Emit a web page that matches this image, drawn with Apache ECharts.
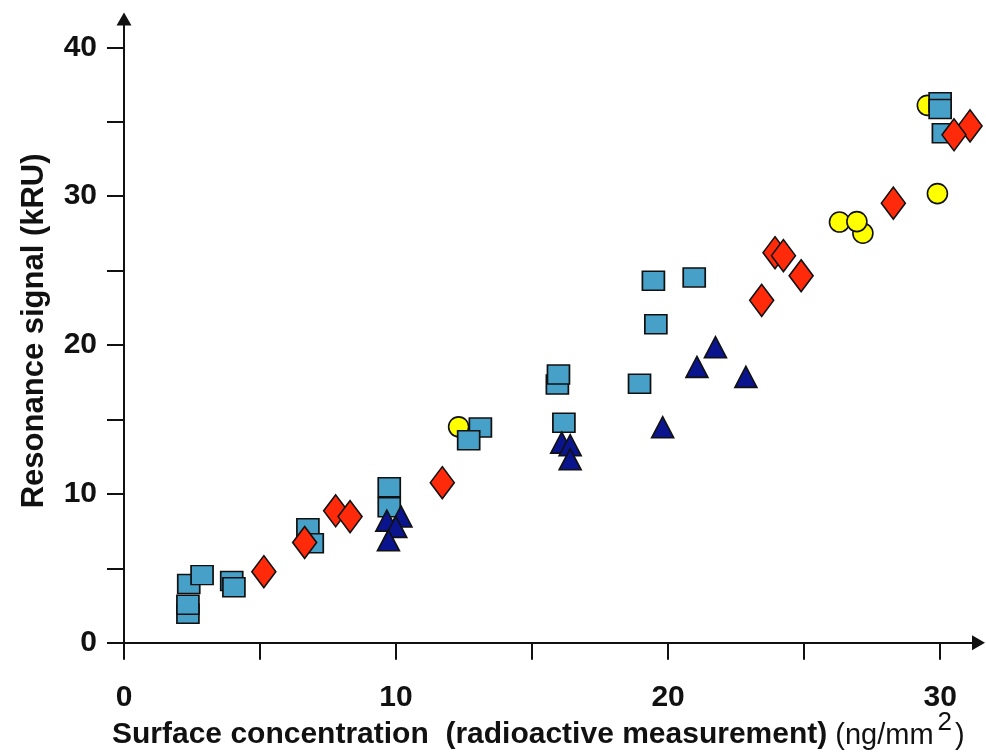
<!DOCTYPE html>
<html>
<head>
<meta charset="utf-8">
<script src="https://cdn.jsdelivr.net/npm/echarts@6/dist/echarts.min.js"></script>
<style>
  html, body { margin: 0; padding: 0; background: #fff; }
  #chart { width: 986px; height: 752px; }
</style>
</head>
<body>
<div id="chart"></div>
<script>
// Surface concentration (ng/mm²) vs resonance signal (kRU), four sample groups
const circlePoints = [
  [9.75, 9.8], [12.3, 14.5], [26.3, 28.26], [27.16, 27.51], [26.94, 28.29],
  [29.53, 36.1], [29.9, 30.17]
];
const squarePoints = [
  [2.35, 1.95], [2.35, 2.55], [2.38, 3.94], [2.87, 4.54], [3.96, 4.15], [4.04, 3.72],
  [6.76, 7.69], [6.92, 6.68], [9.75, 10.44], [9.75, 9.1], [13.1, 14.45], [12.67, 13.6],
  [15.93, 17.34], [15.97, 18.02], [16.17, 14.77], [18.95, 17.39], [19.46, 24.32],
  [19.55, 21.4], [20.96, 24.54], [30.0, 36.3], [30.0, 35.85], [30.12, 34.23]
];
const trianglePoints = [
  [10.18, 8.48], [9.66, 8.2], [9.99, 7.78], [9.72, 6.88],
  [16.09, 13.44], [16.4, 13.27], [16.4, 12.32], [19.8, 14.48],
  [21.06, 18.53], [21.74, 19.85], [22.86, 17.86]
];
const diamondPoints = [
  [5.14, 4.77], [6.64, 6.73], [7.78, 8.86], [8.31, 8.47], [11.7, 10.75],
  [23.44, 23.0], [23.93, 26.2], [24.24, 26.0], [24.89, 24.65], [28.28, 29.53],
  [31.1, 34.72], [30.51, 34.12]
];

const xTicks = [0, 5, 10, 15, 20, 25, 30];
const xTickLabels = [0, 10, 20, 30];
const yTicks = [0, 5, 10, 15, 20, 25, 30, 35, 40];
const yTickLabels = [0, 10, 20, 30, 40];

const FONT = 'Liberation Sans, Arial, sans-serif';
const INK = '#111';
const TEXT = '#111';

const chart = echarts.init(document.getElementById('chart'), null, { renderer: 'canvas' });

function axisCommon(ticks, labels, margin) {
  return {
    type: 'value',
    splitLine: { show: false },
    axisLine: {
      show: true,
      symbol: ['none', 'triangle'],
      symbolSize: [15, 13],
      lineStyle: { color: INK, width: 2 }
    },
    axisTick: {
      show: true,
      customValues: ticks,
      length: 17,
      lineStyle: { color: INK, width: 2 }
    },
    axisLabel: {
      customValues: labels,
      margin: margin,
      color: TEXT,
      fontFamily: FONT,
      fontWeight: 'bold',
      fontSize: 30
    }
  };
}

function markerSeries(data, symbol, size, color) {
  return {
    type: 'scatter',
    data: data,
    symbol: symbol,
    symbolSize: size,
    itemStyle: { color: color, borderColor: INK, borderWidth: 1.6, opacity: 1 },
    emphasis: { disabled: true },
    animation: false
  };
}

chart.setOption({
  backgroundColor: '#fff',
  animation: false,
  grid: { left: 124, right: 7.5, top: 19, bottom: 109.3 },
  xAxis: Object.assign(axisCommon(xTicks, xTickLabels, 40), { min: 0, max: 31.41 }),
  yAxis: Object.assign(axisCommon(yTicks, yTickLabels, 27), {
    min: 0, max: 41.9,
    name: 'Resonance signal (kRU)',
    nameLocation: 'middle',
    nameRotate: 90,
    nameGap: 74,
    nameTextStyle: { color: TEXT, fontFamily: FONT, fontWeight: 'bold', fontSize: 31 }
  }),
  series: [
    markerSeries(circlePoints, 'circle', 20, '#FFFF00'),
    markerSeries(squarePoints, 'rect', [22, 19], '#46A0C8'),
    markerSeries(trianglePoints, 'triangle', [22, 21], '#0A148C'),
    markerSeries(diamondPoints, 'diamond', [24, 32], '#FF2A0A')
  ],
  graphic: [{
    type: 'text',
    left: 112,
    top: 710,
    style: {
      text: '{b|Surface concentration  (radioactive measurement)}{r| (ng/mm}{s|2}{r|)}',
      fill: TEXT,
      rich: {
        b: { fontFamily: FONT, fontWeight: 'bold', fontSize: 30, fill: TEXT, verticalAlign: 'bottom' },
        r: { fontFamily: FONT, fontSize: 29, fill: TEXT, verticalAlign: 'bottom' },
        s: { fontFamily: FONT, fontSize: 26, fill: TEXT, verticalAlign: 'bottom', padding: [0, 3, 14, 4] }
      }
    }
  }]
});
</script>
</body>
</html>
